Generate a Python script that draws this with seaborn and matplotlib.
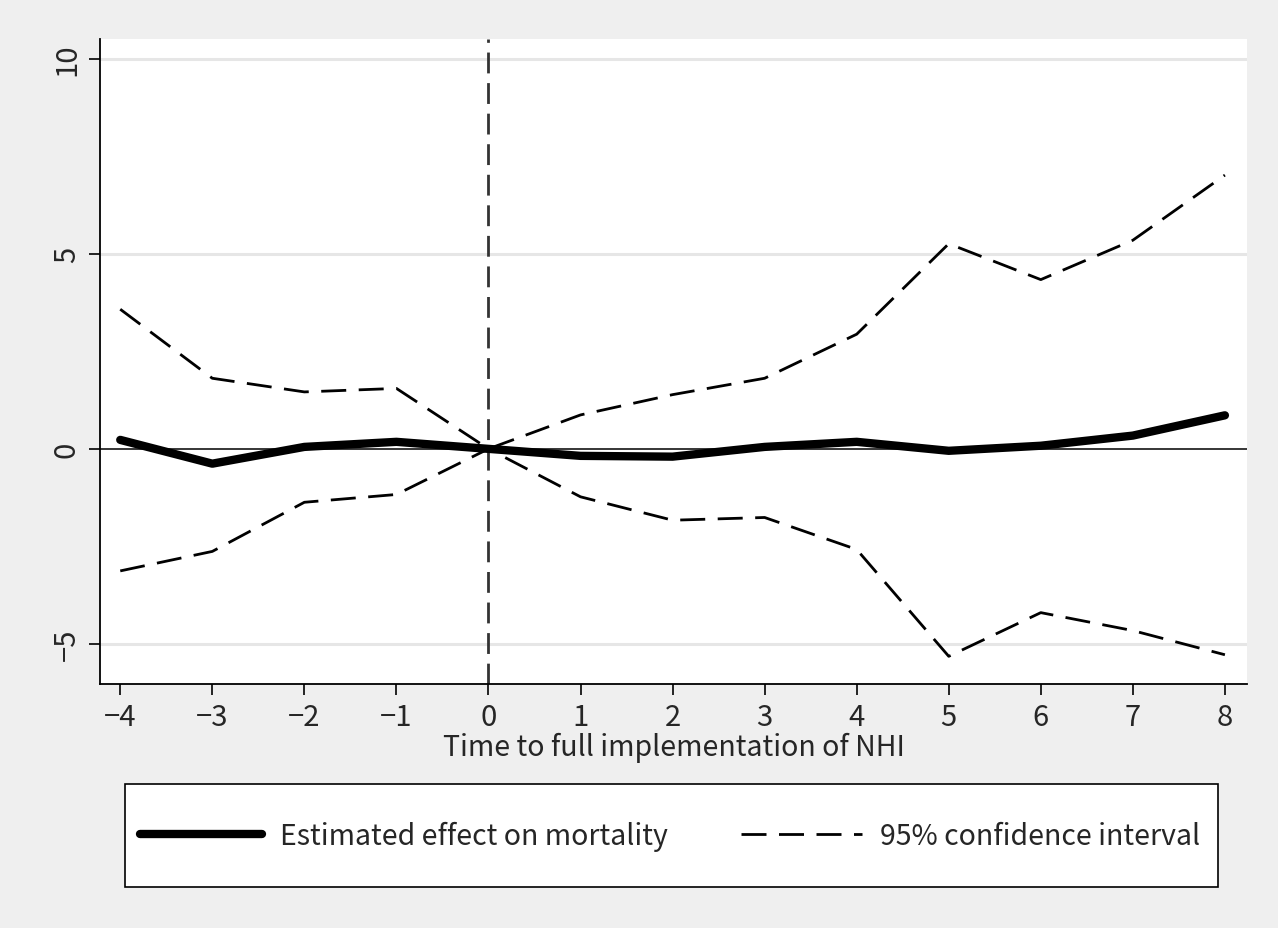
import matplotlib
matplotlib.use("Agg")
import matplotlib.pyplot as plt
from matplotlib.patches import Rectangle
import seaborn as sns
import pandas as pd

time = [-4, -3, -2, -1, 0, 1, 2, 3, 4, 5, 6, 7, 8]
estimate = [0.23, -0.38, 0.05, 0.18, 0.0, -0.18, -0.20, 0.05, 0.18, -0.05, 0.08, 0.34, 0.86]
upper = [3.58, 1.81, 1.46, 1.55, 0.0, 0.87, 1.39, 1.81, 2.94, 5.26, 4.34, 5.35, 7.02]
lower = [-3.13, -2.63, -1.37, -1.17, 0.0, -1.23, -1.83, -1.76, -2.58, -5.32, -4.20, -4.66, -5.28]
yticks = [-5, 0, 5, 10]
xticks = list(range(-4, 9))

sns.set_theme(style="white")
plt.rcParams['font.family'] = ['Noto Sans CJK JP', 'DejaVu Sans']
plt.rcParams['axes.unicode_minus'] = True

df = pd.DataFrame({"time": time, "estimate": estimate, "upper": upper, "lower": lower})

W, H = 1278, 929
fig = plt.figure(figsize=(W/100, H/100), dpi=100, facecolor="#efefef")
ax = fig.add_axes([100/W, 1-685/H, (1247-100)/W, (685-40)/H])
ax.set_facecolor("white")

for yv in [-5, 5, 10]:
    ax.axhline(yv, color="#e6e6e6", lw=2.2, zorder=0)
ax.axhline(0, color="black", lw=1.1, zorder=1)
ax.axvline(0, color="#333333", lw=2, ls=(0, (7.5, 3.5)), zorder=1)

sns.lineplot(data=df, x="time", y="estimate", ax=ax, color="black", lw=6,
             solid_capstyle="round", label="Estimated effect on mortality", zorder=3)
sns.lineplot(data=df, x="time", y="upper", ax=ax, color="black", lw=2,
             ls=(0, (9, 4.5)), label="95% confidence interval", zorder=2)
sns.lineplot(data=df, x="time", y="lower", ax=ax, color="black", lw=2,
             ls=(0, (9, 4.5)), zorder=2)

ax.set_xlim(-4.22, 8.24)
ax.set_ylim(-6.03, 10.51)
ax.set_xticks(xticks)
ax.set_xticklabels([("\u2212" + str(-t)) if t < 0 else str(t) for t in xticks])
ax.set_yticks(yticks)
ax.set_yticklabels([("\u2212" + str(-t)) if t < 0 else str(t) for t in yticks], rotation=90, va="center")
ax.tick_params(axis="both", which="both", direction="out", length=8, width=1.2,
               color="black", labelsize=21, bottom=True, left=True, pad=5)
ax.set_xlabel("Time to full implementation of NHI", fontsize=20.5, labelpad=0)
ax.set_ylabel("")
for s in ["top", "right"]:
    ax.spines[s].set_visible(False)
for s in ["left", "bottom"]:
    ax.spines[s].set_color("black")
    ax.spines[s].set_linewidth(1.3)

# legend frame
fig.patches.append(Rectangle((125/W, 1-888/H), (1218-125)/W, (888-785)/H,
                             transform=fig.transFigure, facecolor="white",
                             edgecolor="black", lw=1.2, zorder=0))

handles, labels = ax.get_legend_handles_labels()
if ax.legend_:
    ax.legend_.remove()
leg = fig.legend(handles, labels, loc="center left", ncol=2,
                 bbox_to_anchor=(140/W, 1-(785+888)/2/H),
                 frameon=False, fontsize=20.5, handlelength=4.28,
                 columnspacing=2.56, handletextpad=0.63,
                 borderpad=0, borderaxespad=0)

fig.savefig("out.png", dpi=100, facecolor=fig.get_facecolor())
